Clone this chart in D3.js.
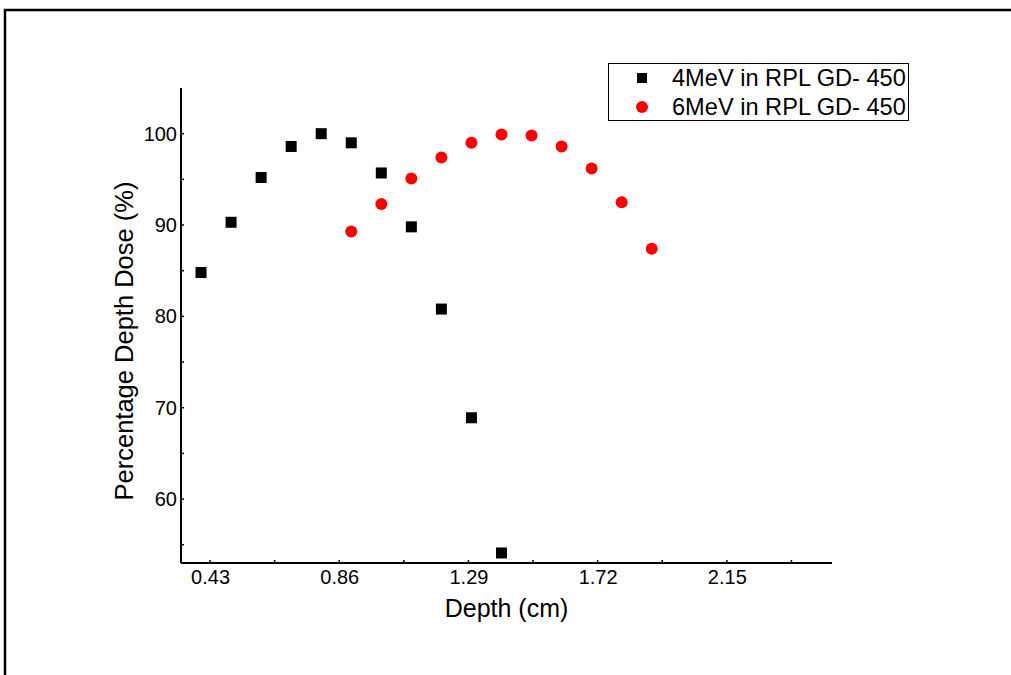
<!DOCTYPE html>
<html>
<head>
<meta charset="utf-8">
<script src="https://cdn.jsdelivr.net/npm/d3@7"></script>
<style>
  html, body { margin: 0; padding: 0; background: #fff; }
  svg { display: block; font-family: "Liberation Sans", Arial, sans-serif; }
</style>
</head>
<body>
<svg id="chart" width="1011" height="675"></svg>
<script>
// ---- Data ----
const depth4 = [0.4, 0.5, 0.6, 0.7, 0.8, 0.9, 1.0, 1.1, 1.2, 1.3, 1.4];
const pdd4   = [84.8, 90.3, 95.2, 98.6, 100.0, 99.0, 95.7, 89.8, 80.8, 68.9, 54.1];
const depth6 = [0.9, 1.0, 1.1, 1.2, 1.3, 1.4, 1.5, 1.6, 1.7, 1.8, 1.9];
const pdd6   = [89.3, 92.3, 95.1, 97.4, 99.0, 99.9, 99.8, 98.6, 96.2, 92.5, 87.4];
const xTicks = [0.43, 0.86, 1.29, 1.72, 2.15];
const xMinorTicks = [0.645, 1.075, 1.505, 1.935, 2.365];
const yTicks = [60, 70, 80, 90, 100];
const yMinorTicks = [55, 65, 75, 85, 95];
const seriesNames = ["4MeV in RPL GD- 450", "6MeV in RPL GD- 450"];
const xTitle = "Depth (cm)";
const yTitle = "Percentage Depth Dose (%)";

(function () {
const svg = d3.select("#chart");

// outer frame (clipped at right and bottom)
svg.append("path")
  .attr("d", "M5,675 V10 H1011")
  .attr("fill", "none").attr("stroke", "#000").attr("stroke-width", 2.5);

const pL = 181, pR = 832, pT = 88, pB = 563;
const x = d3.scaleLinear().domain([1/3, 2.5]).range([pL, pR]);
const y = d3.scaleLinear().domain([53, 105]).range([pB, pT]);

// axes
const xAxis = d3.axisBottom(x).tickValues(xTicks).tickSize(0).tickPadding(7)
  .tickFormat(d3.format(".2f"));
const gx = svg.append("g").attr("transform", `translate(0,${pB})`).call(xAxis);
gx.select(".domain").attr("stroke", "#000").attr("stroke-width", 2).attr("d", `M${pL},0H${pR}`);
gx.selectAll("text").attr("font-size", 20).attr("fill", "#000")
  .attr("font-family", "Liberation Sans, Arial, sans-serif");

const yAxis = d3.axisLeft(y).tickValues(yTicks).tickSize(0).tickPadding(4)
  .tickFormat(d3.format("d"));
const gy = svg.append("g").attr("transform", `translate(${pL},0)`).call(yAxis);
gy.select(".domain").attr("stroke", "#000").attr("stroke-width", 2).attr("d", `M0,${pT}V${pB}`);
gy.selectAll("text").attr("font-size", 20).attr("fill", "#000")
  .attr("font-family", "Liberation Sans, Arial, sans-serif");

// small inward tick marks
svg.append("g").selectAll("line").data(xTicks.concat(xMinorTicks)).join("line")
  .attr("x1", d => x(d)).attr("x2", d => x(d))
  .attr("y1", pB).attr("y2", pB - 3)
  .attr("stroke", "#000").attr("stroke-width", 1.5);
svg.append("g").selectAll("line").data(yTicks.concat(yMinorTicks)).join("line")
  .attr("x1", pL).attr("x2", pL + 3)
  .attr("y1", d => y(d)).attr("y2", d => y(d))
  .attr("stroke", "#000").attr("stroke-width", 1.5);

// axis titles
svg.append("text").attr("x", (pL + pR) / 2).attr("y", 617)
  .attr("text-anchor", "middle").attr("font-size", 25).attr("fill", "#000").text(xTitle);
svg.append("text").attr("transform", "translate(133,341) rotate(-90)")
  .attr("text-anchor", "middle").attr("font-size", 25.5).attr("fill", "#000").text(yTitle);

// data marks
const s4 = depth4.map((d, i) => ({ x: d, y: pdd4[i] }));
const s6 = depth6.map((d, i) => ({ x: d, y: pdd6[i] }));
const sq = 11;
svg.append("g").selectAll("rect").data(s4).join("rect")
  .attr("x", d => x(d.x) - sq / 2).attr("y", d => y(d.y) - sq / 2)
  .attr("width", sq).attr("height", sq).attr("fill", "#000");
svg.append("g").selectAll("circle").data(s6).join("circle")
  .attr("cx", d => x(d.x)).attr("cy", d => y(d.y)).attr("r", 6)
  .attr("fill", "#ff0000");

// legend
const lg = svg.append("g");
lg.append("rect").attr("x", 608.5).attr("y", 63.5).attr("width", 300).attr("height", 57)
  .attr("fill", "#fff").attr("stroke", "#000").attr("stroke-width", 1);
lg.append("rect").attr("x", 642 - 5).attr("y", 78 - 5).attr("width", 10).attr("height", 10).attr("fill", "#000");
lg.append("circle").attr("cx", 642).attr("cy", 107).attr("r", 6).attr("fill", "#ff0000");
lg.append("text").attr("x", 672).attr("y", 86).attr("font-size", 23.6).attr("fill", "#000").text(seriesNames[0]);
lg.append("text").attr("x", 672).attr("y", 115).attr("font-size", 23.6).attr("fill", "#000").text(seriesNames[1]);
})();
</script>
</body>
</html>
